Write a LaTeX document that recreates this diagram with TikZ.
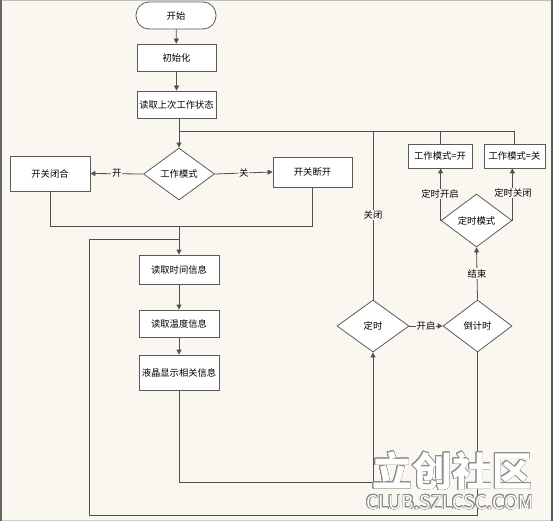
\documentclass[tikz,border=0pt]{standalone}
\usepackage{fontspec}
\setmainfont{Noto Sans CJK SC}
\usepackage{contour}
\contourlength{0.7pt}
\usetikzlibrary{shapes.geometric,arrows.meta}
\definecolor{bg}{HTML}{F9F7F0}
\definecolor{ln}{HTML}{505050}
\definecolor{bd}{HTML}{5A5A5A}
\tikzset{
  base/.style={draw=bd, line width=0.8pt, fill=white, inner sep=0pt, font=\fontsize{9.3}{11}\selectfont},
  box/.style={base, rectangle},
  term/.style={base, rectangle, rounded corners=13pt},
  dec/.style={base, diamond},
  conn/.style={draw=ln, line width=0.8pt},
  arr/.style={conn, -{Triangle[length=5pt,width=5pt]}},
  lbl/.style={fill=bg, inner sep=1pt, font=\fontsize{9.3}{11}\selectfont},
}
\begin{document}
\begin{tikzpicture}[x=1pt,y=-1pt]
\fill[bg] (0,0) rectangle (553,521);
\useasboundingbox (0,0) rectangle (553,521);
% frame
\draw[color=black!25, line width=1pt] (0,0.5) -- (553,0.5);
\draw[color=black!20, line width=1pt] (0,520.5) -- (553,520.5);
\draw[color=black!60, line width=1.5pt] (0.75,0) -- (0.75,521);
\draw[color=black!65, line width=2pt] (552,0) -- (552,521);

% nodes
\node[term, minimum width=80pt, minimum height=27pt] (start) at (176,15.5) {开始};
\node[box, minimum width=79pt, minimum height=27pt] (init) at (176.5,57.5) {初始化};
\node[box, minimum width=79pt, minimum height=27pt] (read) at (176.5,104.5) {读取上次工作状态};
\node[dec, minimum width=71pt, minimum height=52pt] (mode) at (179,174) {工作模式};
\node[box, minimum width=80pt, minimum height=35pt] (swc) at (50,173.5) {开关闭合};
\node[box, minimum width=79pt, minimum height=30pt] (swo) at (312.5,172) {开关断开};
\node[box, minimum width=80pt, minimum height=29pt] (rtime) at (179,269.5) {读取时间信息};
\node[box, minimum width=80pt, minimum height=27pt] (rtemp) at (179,323.5) {读取温度信息};
\node[box, minimum width=80pt, minimum height=35pt] (lcd) at (179,372.5) {液晶显示相关信息};
\node[dec, minimum width=72pt, minimum height=52pt] (ds) at (373,326) {定时};
\node[dec, minimum width=69pt, minimum height=52pt] (djs) at (477.5,326) {倒计时};
\node[dec, minimum width=71pt, minimum height=53pt] (dsm) at (476.5,220.5) {定时模式};
\node[box, minimum width=64pt, minimum height=24pt] (wk) at (440,156) {工作模式=开};
\node[box, minimum width=61pt, minimum height=24pt] (wg) at (514.5,156) {工作模式=关};

\coordinate (j1) at (179,131);
\coordinate (j2) at (179,226);
\coordinate (j3) at (179,239);
\coordinate (lp) at (89,515);
\coordinate (lb) at (179,482);

% connectors
\draw[arr] (start) -- (init);
\draw[arr] (init) -- (read);
\draw[arr] (read.south -| mode.north) -- (mode.north);
\draw[conn] (wk.north) |- (j1);
\draw[conn] (wg.north) |- (j1);
\draw[conn] (ds.north) |- (j1);
\node[lbl] at (373,215) {关闭};
\draw[arr] (mode.west) -- node[lbl] {开} (swc.east);
\draw[arr] (mode.east) -- node[lbl] {关} (swo.west);
\draw[conn] (swc.south) |- (j2);
\draw[conn] (swo.south) |- (j2);
\draw[arr] (j2) -- (rtime.north);
\draw[arr] (rtime) -- (rtemp);
\draw[arr] (rtemp) -- (lcd);
\draw[arr] (lcd.south) |- (lb) -| (ds.south);
\draw[arr] (ds.east) -- node[lbl] {开启} (djs.west);
\draw[arr] (djs.north) -- node[lbl] {结束} (dsm.south);
\draw[arr] (dsm.west) -- (dsm.west |- wk.south);
\node[lbl] at (440,194) {定时开启};
\draw[arr] (dsm.east) -- (dsm.east |- wg.south);
\node[lbl] at (513,193) {定时关闭};
\draw[conn] (djs.south) |- (lp) |- (j3);

% watermark
\node[inner sep=0pt, font=\fontsize{40}{40}\selectfont\bfseries] (wm1) at (452,471) {\contour{black!45}{\textcolor{white}{立创社区}}};
\node[inner sep=0pt, font=\fontsize{19}{19}\selectfont] (wm2) at (450,502.5) {\contour{black!45}{\textcolor{white}{CLUB.SZLCSC.COM}}};
\end{tikzpicture}
\end{document}
